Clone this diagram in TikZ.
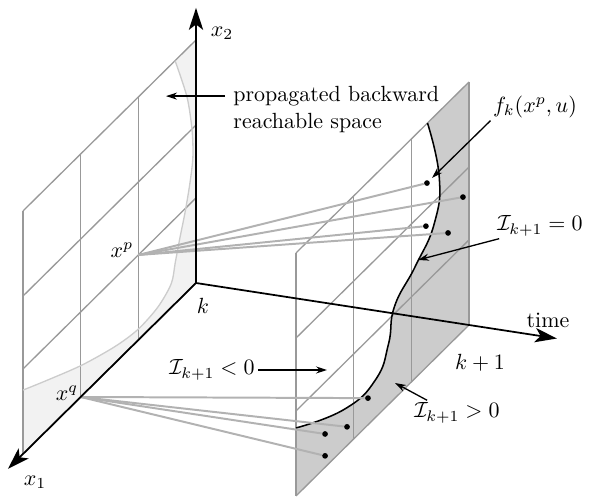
\documentclass[tikz,border=0pt]{standalone}
\usetikzlibrary{arrows.meta}
\begin{document}
\begin{tikzpicture}[
  grid/.style={black!40, line width=0.6pt},
  ray/.style={black!30, line width=0.9pt},
  axis/.style={line width=0.8pt, -{Stealth[length=10pt, width=6.5pt, inset=2.5pt]}},
  note/.style={line width=0.6pt, -{Stealth[length=5pt, width=3.2pt]}},
  dot/.style={circle, fill, inner sep=0pt, minimum size=2.6pt}
]
\useasboundingbox (-3.136,-3.44) rectangle (6.304,4.528);

\begin{scope}[x={(4.368cm,-0.672cm)}, y={(0cm,3.888cm)}, z={(-2.768cm,-2.736cm)}]
\coordinate (O) at (0,0,0);

\fill[black!5] (0,1,0) -- plot[smooth] coordinates {(0,1,0.121) (0,0.802,0.052) (0,0.646,0.023) (0,0.531,0.018) (0,0.436,0.035) (0,0.333,0.064) (0,0.254,0.092) (0,0.168,0.12) (0,0.098,0.143) (0,0.056,0.22) (0,0.045,0.335) (0,0.068,0.468) (0,0.126,0.659) (0,0.203,0.855) (0,0.263,1)} -- (0,0,1) -- (0,0,0) -- cycle;
\fill[black!20] (1,1,0) -- plot[smooth, tension=0.8] coordinates {(1,1,0.24) (1,0.73,0.172) (1,0.56,0.2) (1,0.46,0.31) (1,0.38,0.43) (1,0.25,0.465) (1,0.155,0.54) (1,0.16,0.72) (1,0.28,1)} -- (1,0,1) -- (1,0,0) -- cycle;

\foreach \t in {0,1} {
  \foreach \z in {0,1/3,2/3,1}
    \draw[grid] (\t,0,\z) -- (\t,1,\z);
  \foreach \y in {0,0.35,0.65,1}
    \draw[grid] (\t,\y,0) -- (\t,\y,1);
}

\draw[black!20, line width=0.6pt] plot[smooth] coordinates {(0,1,0.121) (0,0.802,0.052) (0,0.646,0.023) (0,0.531,0.018) (0,0.436,0.035) (0,0.333,0.064) (0,0.254,0.092) (0,0.168,0.12) (0,0.098,0.143) (0,0.056,0.22) (0,0.045,0.335) (0,0.068,0.468) (0,0.126,0.659) (0,0.203,0.855) (0,0.263,1)};
\draw[line width=0.7pt] plot[smooth, tension=0.8] coordinates {(1,1,0.24) (1,0.73,0.172) (1,0.56,0.2) (1,0.46,0.31) (1,0.38,0.43) (1,0.25,0.465) (1,0.155,0.54) (1,0.16,0.72) (1,0.28,1)};

\coordinate (xp) at (0,0.35,1/3);
\coordinate (xq) at (0,0,2/3);

\node[dot] (p1) at (1,0.755,0.243) {};
\node[dot] (p2) at (1,0.551,0.035) {};
\node[dot] (p3) at (1,0.582,0.249) {};
\node[dot] (p4) at (1,0.464,0.121) {};
\node[dot] (q1) at (1,0.11,0.584) {};
\node[dot] (q2) at (1,0.077,0.705) {};
\node[dot] (q3) at (1,0.137,0.832) {};
\node[dot] (q4) at (1,0.047,0.832) {};

\foreach \n in {p1,p2,p3,p4}
  \draw[ray] (xp) -- (\n);
\foreach \n in {q1,q2,q3,q4}
  \draw[ray] (xq) -- (\n);

\draw[axis] (O) -- (1.322,0,0);
\draw[axis] (O) -- (0,1.132,0);
\draw[axis] (O) -- (0,0,1.087);
\end{scope}

\node (lxtwo) at (0.416,4.0) {\(x_2\)};
\node (lxone) at (-2.576,-3.184) {\(x_1\)};
\node (lk) at (0.112,-0.368) {\(k\)};
\node (lkk) at (4.544,-1.28) {\(k+1\)};
\node (ltime) at (5.632,-0.592) {time};
\node (lxp) at (-1.184,0.528) {\(x^p\)};
\node (lxq) at (-2.064,-1.76) {\(x^q\)};

\coordinate (brs) at (-0.48,2.99);
\coordinate (fkp) at (3.776,1.68);
\coordinate (izp) at (3.552,0.368);
\coordinate (inp) at (2.096,-1.392);
\coordinate (ipp) at (3.184,-1.6);

\node[anchor=north west, align=left, inner xsep=3.6pt, inner ysep=0pt] (prop) at (0.465,3.152) {propagated backward\\reachable space};
\draw[note] (prop.west |- brs) -- (brs);

\node[inner sep=1pt] (fk) at (5.424,2.816) {\(f_k(x^p,u)\)};
\draw[note] (fk.south west) -- (fkp);

\node[inner sep=1pt] (izero) at (5.504,0.912) {\(\mathcal{I}_{k+1}=0\)};
\draw[note] ([xshift=2pt]izero.south west) -- (izp);

\node[inner sep=1.5pt] (ineg) at (0.256,-1.392) {\(\mathcal{I}_{k+1}<0\)};
\draw[note] (ineg.east) -- (inp);

\node[inner sep=1pt] (ipos) at (4.176,-2.08) {\(\mathcal{I}_{k+1}>0\)};
\draw[note] ([xshift=7pt]ipos.north west) -- (ipp);
\end{tikzpicture}
\end{document}
